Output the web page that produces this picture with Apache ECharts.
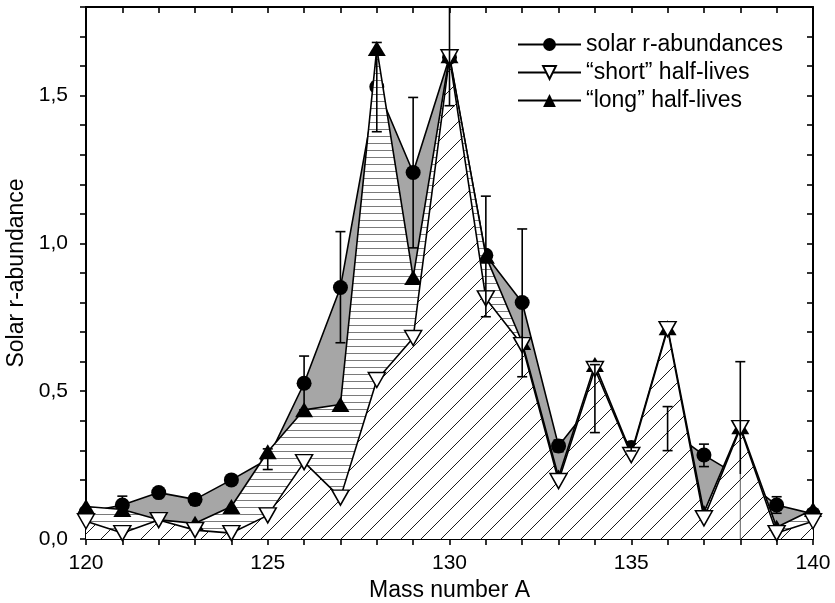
<!DOCTYPE html>
<html><head><meta charset="utf-8">
<script src="https://cdn.jsdelivr.net/npm/echarts@6/dist/echarts.min.js"></script>
<style>html,body{margin:0;padding:0;background:#fff}#c{width:835px;height:603px}</style>
</head><body><div id="c"></div>
<script>
// ---- data ----
const masses = [120,121,122,123,124,125,126,127,128,129,130,131,132,133,134,135,136,137,138,139,140];
const solar  = [0.09,0.115,0.157,0.134,0.20,0.27,0.527,0.851,1.53,1.24,1.63,0.96,0.80,0.315,0.47,0.31,0.373,0.284,0.21,0.115,0.085];
const shortHL = [0.06,0.02,0.064,0.03,0.02,0.08,0.26,0.14,0.538,0.68,1.63,0.814,0.656,0.196,0.575,0.284,0.71,0.07,0.375,0.02,0.06];
const longHL  = [0.11,0.10,0.065,0.053,0.11,0.295,0.437,0.455,1.66,0.885,1.635,0.957,0.665,0.21,0.59,0.29,0.715,0.09,0.38,0.04,0.10];
// error bars: [mass, low, high, drawLowCap]
const errBars = [
  [121,0.085,0.145,1],[123,0.115,0.152,1],[125,0.235,0.305,1],[126,0.437,0.619,1],
  [127,0.664,1.04,1],[128,1.378,1.68,1],[129,0.985,1.494,1],[130,1.466,1.8,1],
  [131,0.752,1.16,1],[132,0.549,1.049,1],[133,0.295,0.335,1],[134,0.36,0.59,1],
  [135,0.298,0.322,1],[136,0.299,0.448,1],[137,0.245,0.321,1],[138,0.22,0.60,0],
  [139,0.087,0.143,1]
];
const thinDrops = [[138,0,0.22]];
const seriesNames = ['solar r-abundances','\u201cshort\u201d half-lives','\u201clong\u201d half-lives'];

const FONT = '"Liberation Sans", Arial, Helvetica, sans-serif';

function makeDiag(){
  const s=20, c=document.createElement('canvas'); c.width=s; c.height=s;
  const g=c.getContext('2d'); g.fillStyle='#fff'; g.fillRect(0,0,s,s);
  g.strokeStyle='#1a1a1a'; g.lineWidth=1;
  g.beginPath(); g.moveTo(0,s); g.lineTo(s,0);
  g.moveTo(-3,3); g.lineTo(3,-3); g.moveTo(s-3,s+3); g.lineTo(s+3,s-3); g.stroke();
  return c;
}
function makeHoriz(){
  const c=document.createElement('canvas'); c.width=8; c.height=7;
  const g=c.getContext('2d'); g.fillStyle='#fff'; g.fillRect(0,0,8,7);
  g.fillStyle='#7a7a7a'; g.fillRect(0,3,8,1);
  return c;
}
const pts = arr => masses.map((m,i)=>[m,arr[i]]);

const chart = echarts.init(document.getElementById('c'), null, {renderer:'canvas'});
const axisLine = {onZero:false, lineStyle:{color:'#000', width:2}};
const tickStyle = {color:'#000', width:1.6};
const xLab = v => (Math.round(v)%5===0 ? String(Math.round(v)) : '');
const yLab = v => (Math.abs(v*2-Math.round(v*2))<1e-6 ? v.toFixed(1).replace('.',',') : '');

chart.setOption({
  animation:false,
  backgroundColor:'#fff',
  grid:{left:86,right:22,top:7,bottom:64,containLabel:false,outerBoundsMode:'none'},
  legend:{
    data:seriesNames, orient:'vertical', left:517, top:33, padding:0,
    itemWidth:63, itemHeight:16, itemGap:5,
    textStyle:{fontSize:23, color:'#000', fontFamily:FONT}
  },
  xAxis:[
    {type:'value',min:120,max:140,interval:1,position:'bottom',axisLine,
     axisTick:{inside:false,length:6,lineStyle:tickStyle},
     axisLabel:{formatter:xLab,fontSize:21,color:'#000',margin:14,fontFamily:FONT},
     splitLine:{show:false},
     name:'Mass number A',nameLocation:'middle',nameGap:36,
     nameTextStyle:{fontSize:23,color:'#000',fontFamily:FONT}},
    {type:'value',min:120,max:140,interval:1,position:'top',axisLine,
     axisTick:{inside:true,length:6,lineStyle:tickStyle},
     axisLabel:{show:false},splitLine:{show:false}}
  ],
  yAxis:[
    {type:'value',min:0,max:1.8,interval:0.1,position:'left',axisLine,
     axisTick:{inside:false,length:6,lineStyle:tickStyle},
     axisLabel:{formatter:yLab,fontSize:21,color:'#000',margin:18,fontFamily:FONT},
     splitLine:{show:false},
     name:'Solar r-abundance',nameLocation:'middle',nameGap:54,
     nameTextStyle:{fontSize:23,color:'#000',fontFamily:FONT}},
    {type:'value',min:0,max:1.8,interval:0.1,position:'right',axisLine,
     axisTick:{inside:true,length:6,lineStyle:tickStyle},
     axisLabel:{show:false},splitLine:{show:false}}
  ],
  series:[
    {name:seriesNames[0],type:'line',z:2,data:pts(solar),
     symbol:'circle',symbolSize:15,itemStyle:{color:'#000'},
     lineStyle:{color:'#000',width:1.6},
     areaStyle:{color:'#a6a6a6',opacity:1}},
    {name:seriesNames[2],type:'line',z:3,data:pts(longHL),
     symbol:'triangle',symbolSize:[18,15],itemStyle:{color:'#000'},
     lineStyle:{color:'#000',width:1.6},
     areaStyle:{color:{image:makeHoriz(),repeat:'repeat'},opacity:1}},
    {name:seriesNames[1],type:'line',z:4,data:pts(shortHL),
     symbol:'triangle',symbolRotate:180,symbolSize:[17,15],
     itemStyle:{color:'#fff',borderColor:'#000',borderWidth:1.5},
     lineStyle:{color:'#000',width:1.6},
     areaStyle:{color:{image:makeDiag(),repeat:'repeat'},opacity:1}},
    {type:'custom',z:5,data:errBars,clip:false,
     renderItem:(params,api)=>{
       const x=api.value(0), lo=api.coord([x,api.value(1)]), hi=api.coord([x,api.value(2)]);
       const st={stroke:'#000',lineWidth:1.6};
       const ch=[
         {type:'line',shape:{x1:lo[0],y1:lo[1],x2:hi[0],y2:hi[1]},style:st},
         {type:'line',shape:{x1:hi[0]-5,y1:hi[1],x2:hi[0]+5,y2:hi[1]},style:st}
       ];
       if(api.value(3)) ch.push({type:'line',shape:{x1:lo[0]-5,y1:lo[1],x2:lo[0]+5,y2:lo[1]},style:st});
       return {type:'group',children:ch};
     }},
    {type:'custom',z:5,data:thinDrops,
     renderItem:(params,api)=>{
       const x=api.value(0), lo=api.coord([x,api.value(1)]), hi=api.coord([x,api.value(2)]);
       return {type:'line',shape:{x1:lo[0],y1:lo[1],x2:hi[0],y2:hi[1]},style:{stroke:'#333',lineWidth:0.8}};
     }}
  ]
});
</script></body></html>
